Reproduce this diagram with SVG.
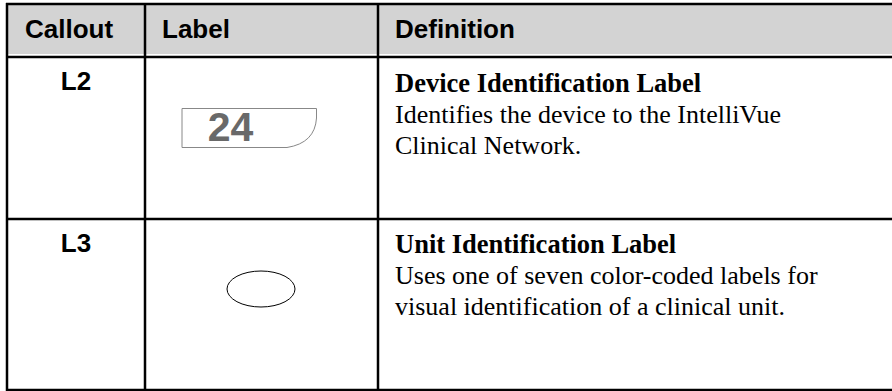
<svg xmlns="http://www.w3.org/2000/svg" width="892" height="391" viewBox="0 0 892 391">
<style>
.hdr{font-family:"Liberation Sans",Arial,sans-serif;font-weight:bold;font-size:26px;fill:#000}
.co{font-family:"Liberation Sans",Arial,sans-serif;font-weight:bold;font-size:26px;fill:#000;text-anchor:middle}
.tt{font-family:"Liberation Serif","Times New Roman",serif;font-weight:bold;font-size:26.5px;fill:#000}
.bd{font-family:"Liberation Serif","Times New Roman",serif;font-size:26px;fill:#000}
.ln{stroke:#000;stroke-width:2.5;fill:none}
</style>
<rect x="0" y="0" width="892" height="391" fill="#fff"/>
<g id="header">
<rect x="7" y="5" width="885" height="49" fill="#d3d3d3"/>
<text class="hdr" x="25" y="38">Callout</text>
<text class="hdr" x="162" y="38">Label</text>
<text class="hdr" x="395" y="38">Definition</text>
</g>
<g id="grid">
<line class="ln" x1="6" y1="4" x2="892" y2="4"/>
<line class="ln" x1="6" y1="57" x2="892" y2="57"/>
<line class="ln" x1="6" y1="219" x2="892" y2="219"/>
<line class="ln" x1="6" y1="390" x2="892" y2="390"/>
<line class="ln" x1="7" y1="3" x2="7" y2="391"/>
<line class="ln" x1="145" y1="3" x2="145" y2="391"/>
<line class="ln" x1="378" y1="3" x2="378" y2="391"/>
</g>
<g id="row-L2">
<text class="co" x="76" y="90">L2</text>
<path d="M182 108.5 H316.5 V118 Q315 143 287 147.5 H182 Z" fill="none" stroke="#888" stroke-width="1"/>
<text x="230.5" y="141" text-anchor="middle" font-family="Liberation Sans,Arial,sans-serif" font-weight="bold" font-size="41" fill="#696969">24</text>
<text class="tt" x="395" y="92">Device Identification Label</text>
<text class="bd" x="395" y="123">Identifies the device to the IntelliVue</text>
<text class="bd" x="395" y="154">Clinical Network.</text>
</g>
<g id="row-L3">
<text class="co" x="76" y="252">L3</text>
<ellipse cx="261" cy="289" rx="34" ry="18" fill="none" stroke="#000" stroke-width="1"/>
<text class="tt" x="395" y="253">Unit Identification Label</text>
<text class="bd" x="395" y="284">Uses one of seven color-coded labels for</text>
<text class="bd" x="395" y="315">visual identification of a clinical unit.</text>
</g>
</svg>
